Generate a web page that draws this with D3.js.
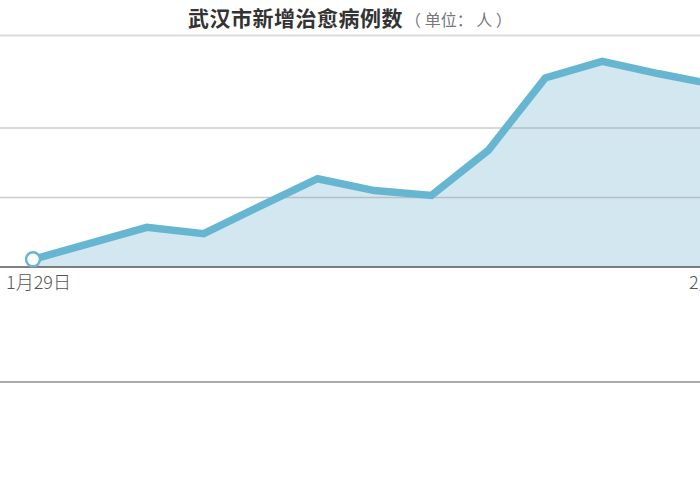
<!DOCTYPE html>
<html>
<head>
<meta charset="utf-8">
<script src="https://cdn.jsdelivr.net/npm/d3@7"></script>
<style>
  body { margin: 0; background: #fff; }
  svg { display: block; font-family: "Noto Sans CJK SC", "Noto Sans", sans-serif; }
</style>
</head>
<body>
<svg id="chart"></svg>
<script>
// daily new cured cases, Wuhan
var dates = ["2020-01-29", "2020-01-30", "2020-01-31", "2020-02-01", "2020-02-02", "2020-02-03",
             "2020-02-04", "2020-02-05", "2020-02-06", "2020-02-07", "2020-02-08", "2020-02-09", "2020-02-10"];
var cured = [11, 34, 57, 48, 88, 127, 110, 103, 168, 272, 296, 278, 262];
var gridValues = [100, 200];
var tickDates = ["2020-01-29", "2020-02-10"];

var titleText = "武汉市新增治愈病例数";
var unitText = "（ 单位： 人 ）";

var svgWidth = 700;
var svgHeight = 500;

var svg = d3.select("#chart")
    .attr("width", svgWidth)
    .attr("height", svgHeight);

var parse = d3.timeParse("%Y-%m-%d");
var data = [];
for (let i = 0; i < dates.length; i++) {
    data.push({ date: parse(dates[i]), value: cured[i] });
}

var xScale = d3.scaleTime()
    .domain([parse("2020-01-29"), parse("2020-02-10")])
    .range([33, 716]);

var yScale = d3.scaleLinear()
    .domain([0, 300])
    .range([267, 58.5]);

// title
var title = svg.append("text")
    .attr("x", 350)
    .attr("y", 26)
    .attr("text-anchor", "middle");
title.append("tspan")
    .attr("font-size", "21px")
    .attr("font-weight", "bold")
    .attr("letter-spacing", "0.5px")
    .attr("fill", "#333")
    .text(titleText);
title.append("tspan")
    .attr("font-size", "16px")
    .attr("fill", "#777")
    .attr("dx", "2px")
    .text(unitText);

// header separator
svg.append("line")
    .attr("x1", 0).attr("x2", svgWidth)
    .attr("y1", 35.5).attr("y2", 35.5)
    .attr("stroke", "#dcdcdc")
    .attr("stroke-width", 2);

// area + line
svg.append("path")
    .datum(data)
    .attr("fill", "#d2e7f0")
    .attr("d", d3.area()
        .x(function(d) { return xScale(d.date); })
        .y0(yScale(0))
        .y1(function(d) { return yScale(d.value); }));

// gridlines drawn over the area
svg.append("g")
    .selectAll("line")
    .data(gridValues)
    .enter()
    .append("line")
    .attr("x1", 0).attr("x2", svgWidth)
    .attr("y1", function(d) { return yScale(d); })
    .attr("y2", function(d) { return yScale(d); })
    .attr("stroke", "#999")
    .attr("stroke-opacity", 0.5)
    .attr("stroke-width", 1.5);

svg.append("path")
    .datum(data)
    .attr("fill", "none")
    .attr("stroke", "#67b6d1")
    .attr("stroke-width", 7.5)
    .attr("stroke-linejoin", "miter")
    .attr("d", d3.line()
        .x(function(d) { return xScale(d.date); })
        .y(function(d) { return yScale(d.value); }));

// baseline axis
var xAxis = svg.append("g")
    .attr("transform", "translate(0," + yScale(0) + ")")
    .call(d3.axisBottom(xScale)
        .tickValues(tickDates.map(parse))
        .tickSize(0)
        .tickPadding(9)
        .tickFormat(d3.timeFormat("%-m月%-d日")));
xAxis.select(".domain").remove();
xAxis.append("line")
    .attr("x1", 0).attr("x2", svgWidth)
    .attr("stroke", "#555")
    .attr("stroke-width", 1.5);
xAxis.selectAll(".tick text")
    .attr("font-size", "18px")
    .attr("font-weight", "300")
    .attr("fill", "#555")
    .attr("dx", "5px")
    .attr("font-family", "\"Noto Sans CJK SC\", sans-serif");

// first point marker
svg.append("circle")
    .attr("cx", xScale(data[0].date))
    .attr("cy", yScale(data[0].value))
    .attr("r", 7)
    .attr("fill", "#fff")
    .attr("stroke", "#67b6d1")
    .attr("stroke-width", 2.5);

// footer separator
svg.append("line")
    .attr("x1", 0).attr("x2", svgWidth)
    .attr("y1", 382).attr("y2", 382)
    .attr("stroke", "#aaa")
    .attr("stroke-width", 2);
</script>
</body>
</html>
